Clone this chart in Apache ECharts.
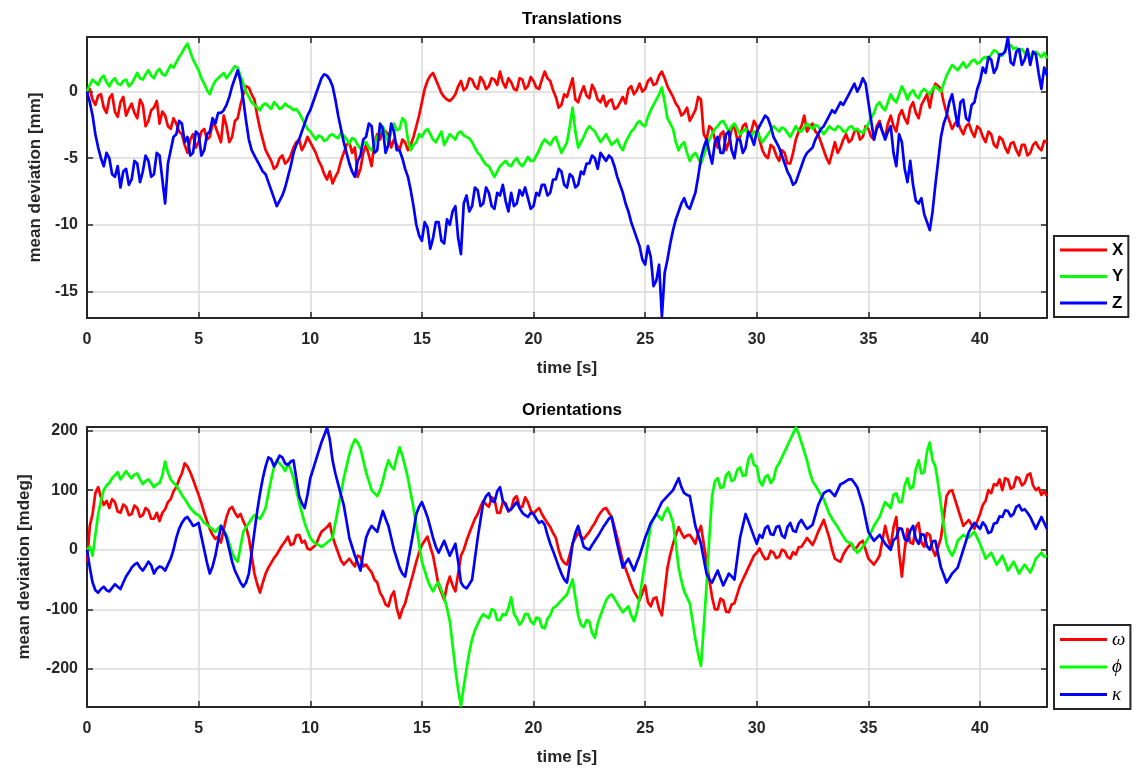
<!DOCTYPE html>
<html>
<head>
<meta charset="utf-8">
<title>Translations and Orientations</title>
<script src="https://cdn.jsdelivr.net/npm/echarts@6/dist/echarts.min.js"></script>
<style>
  html, body { margin: 0; padding: 0; background: #ffffff; }
  #chart { width: 1137px; height: 771px; }
</style>
</head>
<body>
<div id="chart"></div>
<script>
// Sampling step of the recorded deviations, in seconds
const STEP = 0.125;

// Translations [mm], one row per second (8 samples each)
const transX = [
  0, 0.2, -0.6, -1.0, -0.3, -0.2, -1.2, -1.6,
  -0.5, -0.2, -1.5, -1.9, -0.8, -0.4, -1.8, -1.3,
  -0.9, -1.6, -2.0, -0.6, -1.0, -2.6, -2.2, -1.4,
  -1.2, -0.7, -2.4, -1.5, -1.8, -2.6, -2.8, -2.0,
  -2.4, -3.0, -3.2, -4.0, -4.6, -3.6, -3.2, -4.2,
  -3.8, -3.0, -2.8, -3.6, -3.4, -2.4, -2.6, -3.2,
  -3.8, -1.8, -2.6, -3.8, -3.4, -2.2, -2.0, -1.0,
  -0.2, 0.4, 0.3, -0.2, -0.6, -1.8, -2.8, -3.6,
  -4.4, -4.8, -5.2, -5.8, -5.6, -5.0, -4.8, -5.4,
  -5.2, -4.8, -4.2, -3.8, -3.6, -4.4, -4.0, -3.4,
  -3.8, -4.2, -4.6, -5.2, -5.6, -6.2, -6.6, -6.0,
  -6.9, -6.4, -6.0, -5.2, -4.6, -4.0, -3.8, -4.6,
  -4.2, -6.4, -5.8, -4.6, -4.0, -4.8, -5.6, -3.8,
  -3.2, -3.6, -2.8, -3.0, -3.2, -4.2, -3.6, -4.0,
  -4.4, -3.6, -3.8, -4.4, -4.0, -3.4, -2.6, -1.8,
  -0.8, 0.2, 0.8, 1.2, 1.4, 0.9, 0.4, -0.1,
  -0.4, -0.6, -0.7, -0.5, -0.2, 0.4, 0.8, 0.1,
  0.3, 1.0, 0.9, 0.4, 0.2, 1.1, 0.8, 0.2,
  0.4, 1.0, 0.9, 0.5, 1.5, 0.7, 0.3, 1.0,
  0.7, 0.2, 0.1, 1.0, 0.9, 0.2, 0.4, 1.1,
  0.8, 0.3, 0.2, 0.9, 1.5, 1.0, 0.8, 0.1,
  -0.4, -1.2, -1.0, -0.2, -0.4, 0.3, 1.0, -0.6,
  -0.8, -0.1, 0.4, -0.3, -0.5, 0.5, 0.1, -0.6,
  -0.8, -0.3, -1.1, -0.7, -0.6, -1.3, -1.2, -0.8,
  -0.4, -0.9, 0.2, 0.4, -0.2, 0.1, 0.6, 0.0,
  0.2, 0.8, 1.0, 0.5, 0.6, 1.2, 1.5, 1.0,
  0.4, 0.0, -0.4, -0.9, -1.2, -1.8, -1.6, -1.2,
  -2.2, -1.8, -1.4, -0.4, -0.6, -3.2, -3.6, -2.6,
  -2.8, -3.6, -4.2, -3.2, -3.0, -4.4, -3.8, -2.8,
  -2.6, -3.6, -3.4, -2.6, -2.4, -3.2, -3.0, -2.2,
  -2.6, -3.6, -4.4, -4.8, -5.0, -4.0, -4.2, -4.8,
  -5.2, -4.4, -4.6, -5.4, -5.4, -4.6, -3.6, -3.0,
  -2.6, -1.8, -3.0, -2.6, -2.4, -3.0, -3.2, -3.8,
  -4.4, -5.0, -5.4, -4.6, -3.8, -4.6, -4.2, -3.6,
  -3.2, -3.8, -3.6, -3.0, -2.8, -3.6, -3.4, -2.6,
  -2.8, -3.4, -3.6, -2.6, -2.2, -3.0, -3.4, -2.4,
  -1.8, -2.6, -3.0, -1.8, -1.4, -2.0, -2.4, -1.2,
  -0.8, -1.6, -2.0, -1.0, -0.6, -0.2, -1.2, 0.0,
  0.6, 0.4, 0.2, -0.8, -1.6, -2.2, -2.8, -2.4,
  -2.2, -2.8, -3.2, -2.6, -2.4, -3.0, -3.4, -2.6,
  -2.8, -3.4, -3.8, -3.0, -3.2, -4.0, -4.2, -3.4,
  -3.6, -4.2, -4.6, -3.9, -3.8, -4.4, -4.8, -4.0,
  -4.0, -4.8, -4.6, -4.0, -3.8, -4.2, -4.4, -3.7,
  -3.8
];

const transY = [
  0, 0.5, 0.9, 0.7, 0.5, 1.0, 1.2, 0.7,
  0.4, 0.8, 1.0, 0.6, 0.5, 0.8, 0.9, 0.4,
  0.6, 1.0, 1.4, 1.0, 0.9, 1.3, 1.6, 1.2,
  1.0, 1.5, 1.7, 1.3, 1.2, 1.6, 2.0, 1.8,
  2.2, 2.6, 2.9, 3.3, 3.6, 3.0, 2.4, 2.0,
  1.6, 1.0, 0.6, 0.1, -0.2, 0.4, 0.8, 1.0,
  1.2, 1.4, 1.0, 1.3, 1.6, 1.9, 1.8, 1.2,
  0.6, 0.0, -0.4, -0.8, -1.0, -1.2, -1.4, -1.0,
  -0.9, -1.1, -1.3, -0.8, -1.0, -1.3, -1.2, -0.9,
  -1.1, -1.2, -1.4, -1.3, -1.6, -2.0, -2.4, -2.8,
  -3.0, -3.3, -3.6, -3.3, -3.4, -3.7, -3.6, -3.3,
  -3.2, -3.4, -3.5, -3.1, -3.3, -3.6, -3.9, -3.5,
  -3.6, -4.0, -4.3, -3.9, -3.8, -4.2, -4.4, -3.9,
  -3.4, -3.0, -2.6, -3.2, -3.8, -3.0, -2.4, -2.9,
  -2.8, -2.0, -2.2, -3.6, -4.4, -4.0, -3.8, -3.2,
  -3.4, -3.0, -2.8, -3.2, -3.6, -3.8, -3.4, -3.0,
  -4.0, -3.6, -3.2, -3.4, -3.6, -3.1, -3.0, -3.3,
  -3.4, -3.5, -3.8, -4.2, -4.6, -4.8, -5.2, -5.5,
  -5.6, -6.0, -6.4, -6.0, -5.6, -5.4, -5.2, -5.5,
  -5.6, -5.2, -5.0, -5.4, -5.6, -5.3, -4.9, -5.2,
  -5.2, -4.8, -4.4, -3.9, -3.6, -3.8, -4.0, -3.6,
  -3.4, -4.0, -4.6, -4.2, -3.8, -2.6, -1.2, -3.0,
  -4.2, -3.8, -3.4, -2.9, -2.6, -2.8, -3.0, -3.4,
  -3.8, -3.5, -3.2, -3.6, -4.0, -3.8, -3.6, -4.1,
  -4.4, -3.8, -3.4, -3.0, -2.8, -2.4, -2.2, -2.5,
  -2.6, -1.9, -1.4, -1.0, -0.6, -0.2, 0.3, -0.8,
  -2.0, -2.4, -2.8, -3.8, -4.4, -4.0, -3.8, -4.6,
  -5.2, -4.8, -4.6, -5.0, -5.4, -4.8, -4.2, -3.6,
  -3.2, -2.8, -2.6, -2.3, -2.2, -2.6, -3.0, -2.6,
  -2.4, -2.8, -3.2, -3.0, -2.8, -3.1, -3.4, -3.0,
  -3.0, -3.4, -3.8, -3.5, -3.2, -2.9, -2.6, -2.8,
  -3.0, -2.7, -2.8, -3.1, -3.4, -3.0, -2.6, -2.9,
  -3.0, -2.7, -2.4, -2.6, -2.8, -2.5, -2.6, -2.9,
  -3.2, -2.9, -2.6, -2.8, -2.9, -2.6, -2.7, -3.0,
  -3.0, -2.7, -2.6, -2.9, -2.8, -3.0, -3.1, -2.8,
  -2.4, -2.0, -1.6, -1.0, -0.8, -1.2, -1.4, -0.8,
  -0.2, -0.6, -0.8, -0.2, 0.4, 0.0, -0.6, -0.1,
  0.1, -0.3, -0.5, 0.0, 0.2, 0.0, -0.2, 0.2,
  0.4, 0.2, 0.0, 0.6, 1.2, 1.6, 2.0, 1.8,
  1.6, 1.9, 2.2, 1.8, 2.0, 2.3, 2.4, 2.1,
  2.2, 2.5, 2.6, 2.4, 2.8, 3.1, 3.0, 2.7,
  2.7, 3.1, 3.4, 3.5, 3.2, 3.3, 3.0, 3.2,
  2.9, 3.1, 2.6, 2.8, 3.0, 2.8, 2.6, 2.9,
  2.5
];

const transZ = [
  0, -0.8, -1.8, -3.2, -4.2, -5.0, -5.6, -4.6,
  -5.0, -6.2, -6.4, -5.6, -7.2, -6.0, -5.8, -7.0,
  -6.6, -5.2, -5.4, -6.8, -6.0, -4.8, -5.2, -6.4,
  -6.2, -4.6, -4.8, -6.6, -8.4, -5.4, -4.4, -3.4,
  -3.2, -2.2, -2.4, -3.8, -3.4, -4.8, -4.6, -3.0,
  -3.2, -4.8, -4.4, -3.2, -3.0, -2.0, -2.4, -1.6,
  -1.6, -1.4, -1.0, -0.4, 0.4, 1.0, 1.6, 0.8,
  -0.6, -2.2, -3.6, -4.4, -4.8, -5.2, -5.6, -6.0,
  -6.2, -6.8, -7.4, -8.0, -8.6, -8.2, -7.8, -7.2,
  -6.4, -5.6, -4.6, -4.0, -3.6, -3.0, -2.4, -1.8,
  -1.4, -0.8, -0.2, 0.4, 1.0, 1.3, 1.2, 0.9,
  0.4, -0.6, -1.8, -2.8, -3.8, -4.6, -5.4, -6.0,
  -6.4, -5.2, -4.8, -3.6, -3.4, -2.4, -2.6, -4.6,
  -4.4, -2.4, -2.8, -4.6, -4.0, -2.4, -3.0, -4.4,
  -4.4, -5.0, -5.8, -6.4, -7.4, -8.6, -10.0, -10.8,
  -11.2, -9.8, -10.2, -11.8, -11.0, -9.8, -9.8, -11.2,
  -11.4, -9.6, -10.0, -9.0, -8.6, -11.0, -12.2, -8.4,
  -7.8, -9.0, -8.6, -7.2, -7.4, -8.6, -8.4, -7.2,
  -7.6, -8.6, -8.8, -7.6, -7.8, -7.0, -8.2, -9.0,
  -7.6, -8.6, -8.4, -7.4, -7.8, -7.2, -8.0, -8.8,
  -8.6, -7.6, -7.8, -7.0, -7.0, -7.8, -7.6, -6.6,
  -6.6, -5.8, -6.0, -7.0, -7.2, -6.2, -6.4, -7.2,
  -7.0, -6.0, -6.2, -5.4, -5.4, -4.8, -5.0, -5.8,
  -4.6, -4.9, -5.2, -4.8, -5.0, -5.6, -6.4, -7.0,
  -7.6, -8.4, -9.0, -9.8, -10.4, -11.0, -11.6, -12.6,
  -13.0, -11.6, -12.4, -14.6, -14.2, -13.0, -16.9, -13.6,
  -12.6, -11.4, -10.4, -9.6, -9.0, -8.4, -8.0, -8.6,
  -8.8, -8.2, -7.6, -6.4, -5.0, -4.2, -3.6, -4.6,
  -5.4, -3.8, -3.4, -4.6, -4.6, -3.2, -3.0, -4.4,
  -5.0, -3.6, -3.6, -4.6, -4.2, -3.0, -3.4, -4.0,
  -3.0, -2.6, -2.2, -1.8, -2.0, -2.6, -3.4, -3.8,
  -4.2, -4.8, -5.4, -6.0, -6.4, -7.0, -6.8, -6.2,
  -5.6, -5.0, -4.6, -4.4, -4.2, -3.6, -3.2, -2.8,
  -2.6, -2.2, -1.8, -1.4, -1.6, -1.2, -0.8, -1.0,
  -0.6, -0.2, 0.2, 0.6, 0.0, 0.4, 1.0, 0.6,
  -0.8, -2.2, -3.6, -2.8, -2.4, -3.0, -3.6, -3.0,
  -2.6, -4.6, -5.6, -3.2, -3.8, -5.8, -6.8, -5.2,
  -7.0, -8.2, -8.4, -8.0, -9.2, -9.8, -10.4, -9.0,
  -7.0, -5.2, -3.4, -2.4, -1.8, -0.8, -0.2, -1.4,
  -2.6, -0.8, -0.6, -2.0, -2.2, -1.0, -0.8, 0.2,
  0.8, 1.8, 1.4, 2.6, 2.4, 1.4, 1.8, 2.8,
  2.8, 3.0, 4.1, 2.2, 2.0, 3.0, 3.2, 2.0,
  2.4, 3.2, 2.0, 3.0, 2.8, 1.4, 0.2, 1.8,
  1.2
];

// Orientations [mdeg], one row per second (8 samples each)
const orientOmega = [
  -20, 40, 60, 95, 105, 88, 75, 82,
  70, 85, 80, 64, 62, 76, 72, 58,
  60, 74, 70, 55, 58, 70, 66, 52,
  52, 62, 48, 62, 68, 80, 85, 98,
  105, 118, 128, 145, 140, 130, 118, 105,
  92, 78, 62, 48, 35, 25, 18, 22,
  12, 35, 55, 68, 72, 62, 55, 60,
  48, 38, 20, -10, -40, -58, -72, -55,
  -40, -30, -22, -14, -8, 0, 8, 14,
  22, 8, 10, 24, 25, 12, 15, 2,
  0, 4, 8, 20, 30, 34, 38, 44,
  22, 8, -5, -18, -25, -20, -15, -22,
  -28, -10, -12, -28, -25, -32, -38, -50,
  -55, -72, -80, -92, -95, -78, -70, -98,
  -115, -100, -90, -72, -55, -38, -20, -5,
  8, 15, 22, 5, -10, -35, -60, -72,
  -84, -60, -45, -60, -70, -40, -10, 0,
  15, 28, 40, 52, 60, 72, 82, 76,
  72, 88, 85, 62, 62, 80, 78, 64,
  68, 86, 90, 72, 72, 88, 80, 66,
  60, 66, 70, 60, 52, 45, 38, 28,
  20, 0, -15, -22, -25, -8, 10, 20,
  28, 22, 18, 24, 30, 38, 45, 55,
  62, 68, 70, 62, 55, 38, 20, 0,
  -20, -32, -45, -58, -70, -78, -85, -72,
  -60, -88, -95, -82, -80, -100, -110, -70,
  -30, -8, 10, 25, 38, 28, 20, 24,
  25, 18, 10, 28, 40, 10, -20, -50,
  -80, -100, -100, -82, -85, -104, -105, -92,
  -90, -75, -60, -50, -40, -30, -20, -10,
  -5, 2, -8, -16, -15, -2, -5, -14,
  -12, 0, -2, -12, -15, -4, -8, 4,
  5, 12, 20, 14, 8, 18, 30, 40,
  50, 35, 20, 0, -15, -18, -20, -8,
  0, 6, 10, 0, 5, 12, 15, 0,
  -15, -20, -25, -18, -10, 15, 40, 20,
  5, 38, 55, -5, -45, 0, 35, 12,
  10, 38, 45, 12, 5, 28, 25, 0,
  -10, 5, 20, 55, 90, 98, 100, 85,
  70, 55, 40, 45, 50, 42, 35, 48,
  60, 75, 82, 100, 95, 110, 108, 118,
  100, 120, 118, 102, 105, 122, 120, 108,
  112, 125, 128, 108, 100, 104, 92, 98,
  90
];

const orientPhi = [
  0, 5, -10, 25, 60, 82, 100, 108,
  112, 120, 125, 130, 118, 125, 132, 125,
  120, 126, 128, 118, 110, 115, 118, 112,
  105, 110, 112, 125, 148, 130, 118, 112,
  108, 100, 92, 85, 78, 70, 65, 60,
  58, 52, 45, 42, 38, 34, 30, 36,
  40, 32, 25, 10, -5, -15, -20, 5,
  30, 38, 45, 52, 58, 55, 52, 60,
  70, 95, 118, 138, 150, 145, 140, 132,
  145, 135, 120, 100, 80, 62, 45, 32,
  20, 14, 10, 8, 5, 8, 12, 16,
  20, 45, 70, 95, 120, 140, 160, 175,
  185, 180, 170, 150, 130, 115, 100, 95,
  90, 100, 115, 135, 150, 140, 135, 155,
  172, 158, 140, 120, 95, 70, 40, 10,
  -20, -35, -50, -62, -70, -60, -55, -68,
  -80, -98, -120, -160, -200, -235, -262, -230,
  -200, -172, -150, -135, -125, -115, -108, -112,
  -115, -100, -102, -118, -118, -108, -110, -98,
  -80, -108, -115, -126, -120, -108, -108, -120,
  -125, -114, -115, -130, -132, -116, -110, -98,
  -95, -90, -85, -80, -75, -62, -50, -80,
  -110, -126, -130, -118, -120, -140, -148, -124,
  -110, -98, -85, -78, -75, -82, -90, -98,
  -105, -100, -95, -110, -120, -105, -80, -50,
  -20, 10, 40, 52, 60, 55, 50, 62,
  70, 60, 45, 10, -30, -52, -70, -80,
  -90, -120, -150, -175, -195, -130, -60, 20,
  90, 115, 120, 104, 105, 125, 130, 115,
  118, 134, 138, 124, 125, 152, 160, 142,
  140, 115, 108, 122, 125, 112, 118, 138,
  145, 155, 165, 175, 185, 195, 205, 195,
  180, 165, 150, 130, 115, 108, 100, 92,
  85, 72, 60, 52, 45, 38, 30, 22,
  15, 12, 10, 2, -5, 0, 5, 12,
  20, 30, 40, 48, 55, 68, 80, 75,
  70, 92, 95, 80, 80, 108, 120, 102,
  105, 135, 150, 128, 130, 165, 180, 150,
  140, 110, 75, 40, 10, -2, -10, 0,
  15, 20, 25, 22, 20, 26, 30, 20,
  10, -2, -15, -10, -5, -15, -25, -18,
  -10, -22, -35, -28, -20, -30, -40, -32,
  -25, -32, -38, -28, -15, -10, -5, -12,
  -10
];

const orientKappa = [
  0, -30, -55, -68, -72, -66, -62, -68,
  -70, -64, -58, -62, -66, -55, -45, -38,
  -30, -25, -22, -30, -35, -28, -20, -26,
  -40, -32, -28, -30, -35, -25, -15, 0,
  20, 35, 45, 52, 55, 48, 40, 42,
  45, 22, 0, -22, -40, -28, -10, 15,
  40, 32, 20, 0, -20, -35, -45, -55,
  -62, -55, -40, -5, 30, 65, 95, 120,
  140, 155, 152, 140, 148, 158, 155, 145,
  142, 148, 150, 120, 90, 78, 70, 92,
  120, 135, 150, 165, 180, 192, 205, 185,
  150, 128, 110, 92, 75, 48, 20, 5,
  -10, -22, -35, -5, 20, 32, 40, 35,
  30, 48, 65, 52, 40, 20, 0, -15,
  -30, -40, -45, -20, 5, 32, 60, 72,
  80, 68, 55, 38, 20, 5, -5, 5,
  15, 2, -10, 0, 10, -20, -55, -62,
  -65, -58, -50, -15, 20, 50, 80, 90,
  95, 82, 80, 98, 105, 82, 75, 66,
  68, 74, 80, 70, 62, 58, 55, 62,
  60, 52, 45, 48, 42, 25, 10, -2,
  -15, -28, -40, -50, -55, -25, 10, 28,
  40, 22, 5, 2, 0, 8, 15, 22,
  30, 38, 45, 52, 55, 32, 10, -10,
  -30, -22, -15, -25, -35, -22, -10, 5,
  20, 32, 45, 52, 60, 70, 80, 85,
  90, 95, 100, 110, 120, 105, 95, 92,
  90, 65, 40, 25, 10, -15, -40, -50,
  -55, -45, -35, -48, -60, -50, -40, -45,
  -50, -15, 20, 40, 60, 48, 35, 22,
  10, 25, 20, 36, 40, 26, 25, 38,
  40, 24, 20, 38, 45, 32, 30, 44,
  50, 42, 35, 38, 42, 58, 75, 85,
  95, 98, 100, 95, 90, 100, 110, 112,
  115, 118, 118, 112, 105, 90, 75, 52,
  30, 22, 15, 20, 25, 18, 10, 5,
  0, 16, 20, 36, 35, 18, 15, 32,
  40, 18, 10, 26, 25, 6, 0, 14,
  15, -8, -30, -42, -55, -48, -40, -35,
  -30, -15, 0, 15, 30, 38, 45, 40,
  35, 46, 40, 28, 30, 44, 45, 56,
  55, 66, 65, 56, 60, 72, 75, 66,
  68, 62, 55, 45, 35, 45, 55, 45,
  35
];

const transNames = ['X', 'Y', 'Z'];
const orientNames = ['\u03C9', '\u03D5', '\u03BA'];
const lineColors = ['#ff0000', '#00ff00', '#0000ff'];

function toPairs(values) {
  return values.map((v, i) => [i * STEP, v]);
}

const FRAME = '#262626';
const SANS = 'Liberation Sans, Arial, sans-serif';
const TICK_FONT = { fontFamily: SANS, fontWeight: 'bold', fontSize: 16, color: FRAME };
const NAME_FONT = { fontFamily: SANS, fontWeight: 'bold', fontSize: 17, color: FRAME };

function mainX(gridIndex) {
  return {
    gridIndex, type: 'value', min: 0, max: 43, interval: 5, position: 'bottom',
    name: 'time [s]', nameLocation: 'middle', nameGap: 42, nameTextStyle: NAME_FONT,
    axisLine: { show: true, onZero: false, lineStyle: { color: FRAME, width: 2 } },
    axisTick: { show: true, inside: true, length: 6, lineStyle: { color: FRAME, width: 1.5 } },
    axisLabel: Object.assign({ margin: 14, showMaxLabel: false }, TICK_FONT),
    splitLine: { show: true, lineStyle: { color: '#dadada', width: 1.5 } }
  };
}
function mirrorX(gridIndex) {
  return {
    gridIndex, type: 'value', min: 0, max: 43, interval: 5, position: 'top',
    axisLine: { show: true, onZero: false, lineStyle: { color: FRAME, width: 2 } },
    axisTick: { show: true, inside: true, length: 6, lineStyle: { color: FRAME, width: 1.5 } },
    axisLabel: { show: false },
    splitLine: { show: false }
  };
}
function mainY(gridIndex, min, max, name, gap) {
  return {
    gridIndex, type: 'value', min, max, splitNumber: 5, position: 'left',
    name, nameLocation: 'middle', nameGap: gap, nameTextStyle: NAME_FONT,
    axisLine: { show: true, onZero: false, lineStyle: { color: FRAME, width: 2 } },
    axisTick: { show: true, inside: true, length: 6, lineStyle: { color: FRAME, width: 1.5 } },
    axisLabel: Object.assign({ margin: 9, showMinLabel: false, showMaxLabel: false }, TICK_FONT),
    splitLine: { show: true, lineStyle: { color: '#dadada', width: 1.5 } }
  };
}
function mirrorY(gridIndex, min, max) {
  return {
    gridIndex, type: 'value', min, max, splitNumber: 5, position: 'right',
    axisLine: { show: true, onZero: false, lineStyle: { color: FRAME, width: 2 } },
    axisTick: { show: true, inside: true, length: 6, lineStyle: { color: FRAME, width: 1.5 } },
    axisLabel: { show: false },
    splitLine: { show: false }
  };
}

function legendBox(names, top, textStyle) {
  return {
    orient: 'vertical', left: 1054, top,
    data: names, icon: 'rect', itemWidth: 47, itemHeight: 3, itemGap: 8.5,
    padding: [5, 5, 5, 6], borderColor: FRAME, borderWidth: 2, backgroundColor: '#ffffff',
    selectedMode: false,
    textStyle: Object.assign({ color: '#000000', lineHeight: 18 }, textStyle)
  };
}

const lineSeries = (name, values, axisIndex, color) => ({
  name, type: 'line', data: toPairs(values), xAxisIndex: axisIndex, yAxisIndex: axisIndex,
  showSymbol: false, symbol: 'none', animation: false,
  lineStyle: { color, width: 2.7, join: 'round' }, itemStyle: { color },
  emphasis: { disabled: true }
});

const chart = echarts.init(document.getElementById('chart'), null, { renderer: 'canvas' });
chart.setOption({
  backgroundColor: '#ffffff',
  animation: false,
  title: [
    { text: 'Translations', left: 567, top: 6, textAlign: 'center',
      textStyle: { fontFamily: SANS, fontWeight: 'bold', fontSize: 17, color: '#000000' } },
    { text: 'Orientations', left: 567, top: 397, textAlign: 'center',
      textStyle: { fontFamily: SANS, fontWeight: 'bold', fontSize: 17, color: '#000000' } }
  ],
  grid: [
    { left: 87, top: 37, width: 960, height: 281 },
    { left: 87, top: 427, width: 960, height: 280 }
  ],
  xAxis: [mainX(0), mainX(1), mirrorX(0), mirrorX(1)],
  yAxis: [
    mainY(0, -17, 4.1, 'mean deviation [mm]', 40),
    mainY(1, -264, 206, 'mean deviation [mdeg]', 54),
    mirrorY(0, -17, 4.1),
    mirrorY(1, -264, 206)
  ],
  legend: [
    legendBox(transNames, 236, { fontFamily: SANS, fontWeight: 'bold', fontSize: 17 }),
    legendBox(orientNames, 625, { fontFamily: 'Liberation Serif, DejaVu Serif, serif', fontStyle: 'italic', fontSize: 19 })
  ],
  series: [
    lineSeries(transNames[0], transX, 0, lineColors[0]),
    lineSeries(transNames[1], transY, 0, lineColors[1]),
    lineSeries(transNames[2], transZ, 0, lineColors[2]),
    lineSeries(orientNames[0], orientOmega, 1, lineColors[0]),
    lineSeries(orientNames[1], orientPhi, 1, lineColors[1]),
    lineSeries(orientNames[2], orientKappa, 1, lineColors[2])
  ]
});
</script>
</body>
</html>
